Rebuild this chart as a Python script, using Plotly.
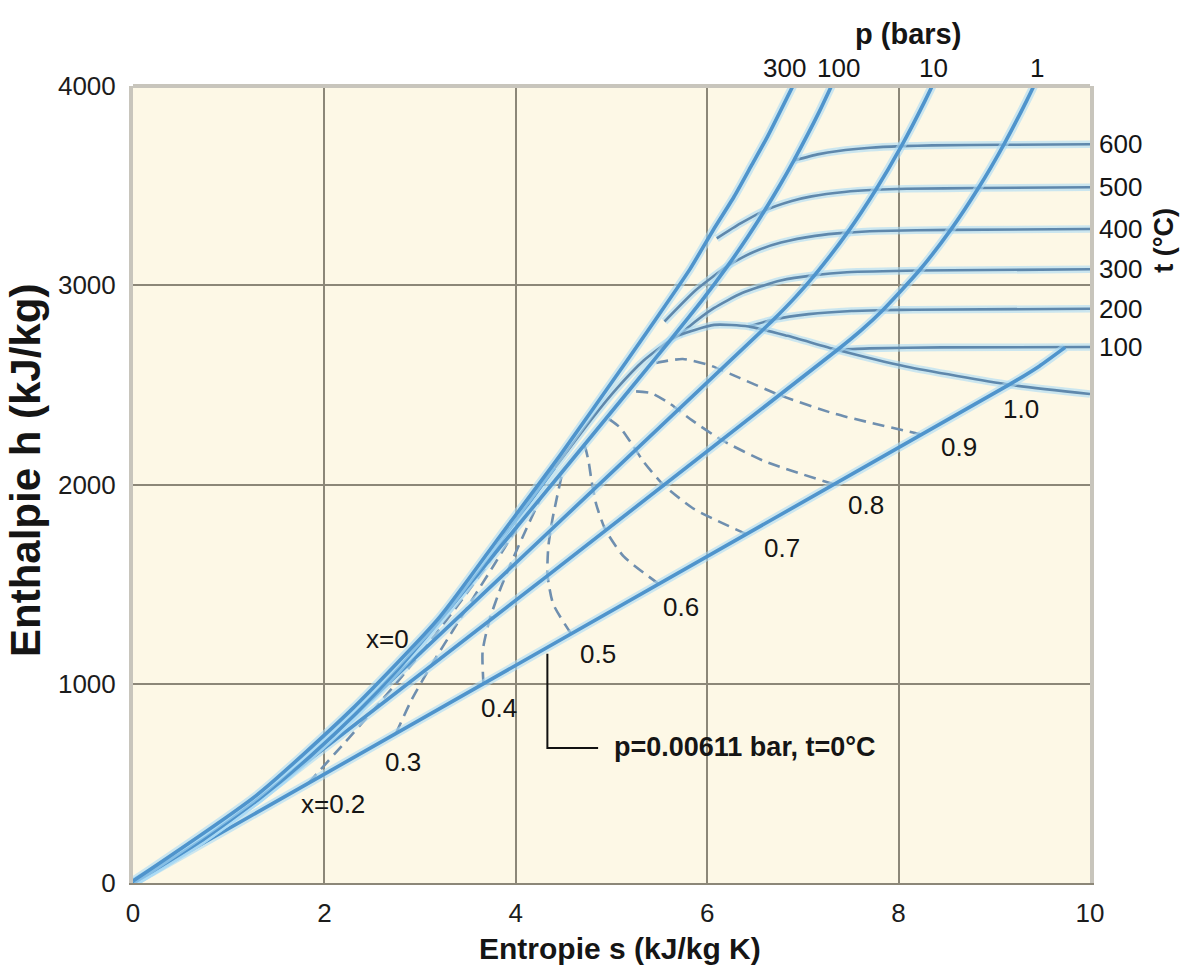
import plotly.graph_objects as go

# ---------------- data ----------------
s_ticks = [0, 2, 4, 6, 8, 10]
h_ticks = [0, 1000, 2000, 3000, 4000]

# saturated liquid line (x = 0)
liq_s = [0.0, 0.704, 1.307, 1.842, 2.331, 2.793, 3.255, 3.360, 3.659, 3.915, 4.111, 4.407]
liq_h = [0, 209, 419, 632, 852, 1086, 1345, 1408, 1594, 1764, 1890, 2084]

# saturated vapour line (x = 1.0)
vap_s = [4.407, 4.800, 5.054, 5.336, 5.615, 5.705, 6.073, 6.432, 6.838, 7.355, 8.076, 9.156, 10.0]
vap_h = [2084, 2333, 2481, 2622, 2725, 2749, 2801, 2793, 2746, 2676, 2592, 2501, 2454]

# isobars (bar)
p_labels = ["300", "100", "10", "1"]
p300_s = [0.0, 1.29, 2.28, 3.20, 3.83, 4.47, 5.15, 5.45, 5.82, 6.06, 6.28, 6.46, 6.63, 6.92]
p300_h = [10, 440, 869, 1332, 1738, 2151, 2614, 2821, 3081, 3275, 3444, 3599, 3746, 4024]
p100_s = [0.0, 0.704, 1.307, 1.842, 2.331, 2.793, 3.360, 5.615, 5.757, 5.946, 6.214, 6.422, 6.600, 6.759, 6.905, 7.170, 7.409]
p100_h = [0, 209, 419, 632, 852, 1086, 1408, 2725, 2810, 2924, 3097, 3242, 3375, 3502, 3626, 3870, 4115]
p10_s = [0.0, 0.704, 1.307, 1.842, 2.138, 6.585, 6.694, 6.926, 7.123, 7.465, 7.762, 8.029, 8.273, 8.500]
p10_h = [0, 209, 419, 632, 763, 2778, 2828, 2943, 3051, 3264, 3479, 3698, 3923, 4150]
p1_s = [0.0, 0.704, 1.303, 7.359, 7.614, 7.834, 8.216, 8.544, 8.834, 9.098, 9.340, 9.570]
p1_h = [0, 209, 418, 2675, 2776, 2875, 3074, 3278, 3488, 3705, 3928, 4159]
# triple-point isobar p = 0.00611 bar
ptr_s = [0.0, 9.156, 9.47, 9.74]
ptr_h = [0, 2501, 2594, 2688]

# isotherms (degC)
t_labels = ["600", "500", "400", "300", "200", "100"]
t600_s = [6.905, 7.168, 7.370, 7.702, 8.029, 8.352, 9.098, 10.0]
t600_h = [3626, 3658, 3674, 3690, 3698, 3702, 3705, 3708]
t500_s = [6.10, 6.348, 6.600, 6.883, 7.091, 7.432, 7.762, 8.087, 8.834, 10.0]
t500_h = [3235, 3310, 3375, 3423, 3446, 3468, 3479, 3484, 3488, 3492]
t400_s = [5.554, 5.882, 6.214, 6.364, 6.541, 6.771, 7.128, 7.465, 7.793, 8.544, 10.0]
t400_h = [2818, 2976, 3097, 3139, 3178, 3214, 3248, 3264, 3272, 3278, 3282]
t300_s = [5.705, 5.793, 6.069, 6.364, 6.768, 7.123, 7.460, 8.216, 10.0]
t300_h = [2749, 2786, 2885, 2961, 3024, 3051, 3065, 3074, 3080]
t200_s = [6.432, 6.694, 7.061, 7.508, 7.834, 8.159, 10.0]
t200_h = [2793, 2828, 2855, 2871, 2875, 2877, 2882]
t100_s = [7.355, 7.695, 8.449, 10.0]
t100_h = [2676, 2683, 2688, 2690]

# lines of constant steam quality (dashed)
q_labels = ["x=0.2", "0.3", "0.4", "0.5", "0.6", "0.7", "0.8", "0.9"]
q_s = [
    [1.831, 2.178, 2.517, 2.841, 3.151, 3.449, 3.745, 3.811],
    [2.747, 2.916, 3.121, 3.341, 3.561, 3.777, 3.990, 4.037],
    [3.662, 3.653, 3.726, 3.840, 3.971, 4.105, 4.235, 4.262],
    [4.578, 4.390, 4.331, 4.340, 4.382, 4.433, 4.480, 4.488],
    [5.494, 5.127, 4.936, 4.840, 4.792, 4.761, 4.725, 4.713],
    [6.409, 5.864, 5.541, 5.339, 5.202, 5.089, 4.970, 4.939],
    [7.325, 6.602, 6.145, 5.839, 5.612, 5.417, 5.215, 5.164],
    [8.240, 7.339, 6.750, 6.338, 6.022, 5.745, 5.460, 5.390],
]
q_h = [
    [500, 686, 870, 1055, 1241, 1429, 1626, 1671],
    [750, 924, 1096, 1266, 1435, 1600, 1766, 1803],
    [1000, 1162, 1322, 1478, 1629, 1772, 1907, 1935],
    [1251, 1401, 1548, 1689, 1823, 1943, 2047, 2067],
    [1501, 1639, 1773, 1901, 2017, 2115, 2187, 2198],
    [1751, 1877, 1999, 2112, 2211, 2286, 2328, 2330],
    [2001, 2116, 2225, 2323, 2405, 2458, 2468, 2462],
    [2251, 2354, 2450, 2535, 2599, 2630, 2609, 2593],
]

# ---------------- styles ----------------
FONT = "Liberation Sans, Arial, sans-serif"
ISOBAR = "#4F94CC"
HALO = "rgba(170,218,245,0.6)"
ISOTHERM = "#5F88AC"
QUALITY = "#6F8FAF"
S_MAX = s_ticks[-1]
H_MAX = h_ticks[-1]

fig = go.Figure()


def add_line(xs, ys, color, width, dash="solid", halo=False):
    if halo:
        fig.add_trace(go.Scatter(x=xs, y=ys, mode="lines",
                                 line=dict(color=HALO, width=width + 5, shape="spline", smoothing=0.6),
                                 hoverinfo="skip", showlegend=False))
    fig.add_trace(go.Scatter(x=xs, y=ys, mode="lines",
                             line=dict(color=color, width=width, dash=dash, shape="spline", smoothing=0.6),
                             hoverinfo="skip", showlegend=False))


for qs, qh in zip(q_s, q_h):
    add_line(qs, qh, QUALITY, 2.6, dash="12px,7px")

for ts, th in [(t600_s, t600_h), (t500_s, t500_h), (t400_s, t400_h),
               (t300_s, t300_h), (t200_s, t200_h), (t100_s, t100_h)]:
    add_line(ts, th, ISOTHERM, 2.6, halo=True)

add_line(vap_s, vap_h, ISOTHERM, 2.6, halo=True)
add_line(liq_s, liq_h, ISOBAR, 3.2, halo=True)

for ps, ph in [(ptr_s, ptr_h), (p1_s, p1_h), (p10_s, p10_h), (p100_s, p100_h), (p300_s, p300_h)]:
    add_line(ps, ph, ISOBAR, 3.6, halo=True)

# ---------------- text ----------------
ann = []
TXT = "#151515"


def label(x, y, text, size=26, bold=False, xanchor="center", yanchor="middle", angle=0, ref="data"):
    if ref == "paper":
        x, y, xr, yr = x / S_MAX, y / H_MAX, "paper", "paper"
    else:
        xr, yr = "x", "y"
    ann.append(dict(x=x, y=y, xref=xr, yref=yr, text=("<b>%s</b>" % text) if bold else text,
                    showarrow=False, xanchor=xanchor, yanchor=yanchor, textangle=angle,
                    font=dict(family=FONT, size=size, color=TXT)))


# pressure labels on top (outside the plotting area -> paper coordinates)
for txt, xs in zip(p_labels, [6.81, 7.37, 8.36, 9.45]):
    label(xs, 4090, txt, ref="paper")
label(8.10, 4262, "p (bars)", size=29, bold=True, ref="paper")

# temperature labels on the right
for txt, th in zip(t_labels, [t600_h, t500_h, t400_h, t300_h, t200_h, t100_h]):
    label(10.07, th[-1], txt, xanchor="left", ref="paper")
label(10.77, 3227, "t (°C)", size=27, bold=True, angle=-90, ref="paper")

# quality labels
q_pos = [(2.09, 396), (2.82, 606), (3.82, 878), (4.86, 1149), (5.73, 1385),
         (6.78, 1681), (7.66, 1897), (8.63, 2188)]
for txt, (xs, yh) in zip(q_labels, q_pos):
    label(xs, yh, txt)
label(9.28, 2379, "1.0")
label(2.66, 1225, "x=0")

# triple point annotation
label(5.0, 683, "p=0.00611 bar, t=0°C", size=27, bold=True, xanchor="left")

# axis titles
ann.append(dict(x=0.509, y=-0.082, xref="paper", yref="paper", text="<b>Entropie s (kJ/kg K)</b>",
                showarrow=False, xanchor="center", yanchor="middle",
                font=dict(family=FONT, size=30, color=TXT)))
ann.append(dict(x=-0.113, y=0.518, xref="paper", yref="paper", text="<b>Enthalpie h (kJ/kg)</b>",
                showarrow=False, xanchor="center", yanchor="middle", textangle=-90,
                font=dict(family=FONT, size=42, color=TXT)))

shapes = [
    dict(type="path", xref="x", yref="y", path="M 4.33 1150 L 4.33 678 L 4.86 678",
         line=dict(color="#111111", width=2)),
    dict(type="line", xref="paper", yref="paper", x0=0, x1=1, y0=1, y1=1,
         line=dict(color="#C8C5BC", width=4)),
]

fig.update_layout(
    width=1183, height=969,
    margin=dict(l=133, r=93, t=86, b=86),
    paper_bgcolor="white", plot_bgcolor="#FDF8E6",
    showlegend=False,
    annotations=ann, shapes=shapes,
    font=dict(family=FONT, size=26, color=TXT),
    xaxis=dict(range=[0, S_MAX], tickvals=s_ticks, ticktext=[str(v) for v in s_ticks],
               showgrid=True, gridcolor="#8C8778", gridwidth=1.5, zeroline=False,
               showline=True, linecolor="#8C8778", linewidth=2,
               ticks="outside", ticklen=6, tickcolor="rgba(0,0,0,0)",
               tickfont=dict(family=FONT, size=26, color="#1c1c1c")),
    yaxis=dict(range=[0, H_MAX], tickvals=h_ticks, ticktext=[str(v) for v in h_ticks],
               showgrid=True, gridcolor="#8C8778", gridwidth=1.5, zeroline=False,
               showline=True, linecolor="#C8C5BC", linewidth=4, mirror=True,
               ticks="outside", ticklen=8, tickcolor="rgba(0,0,0,0)",
               tickfont=dict(family=FONT, size=26, color="#1c1c1c")),
)

fig.write_html("out.html")
